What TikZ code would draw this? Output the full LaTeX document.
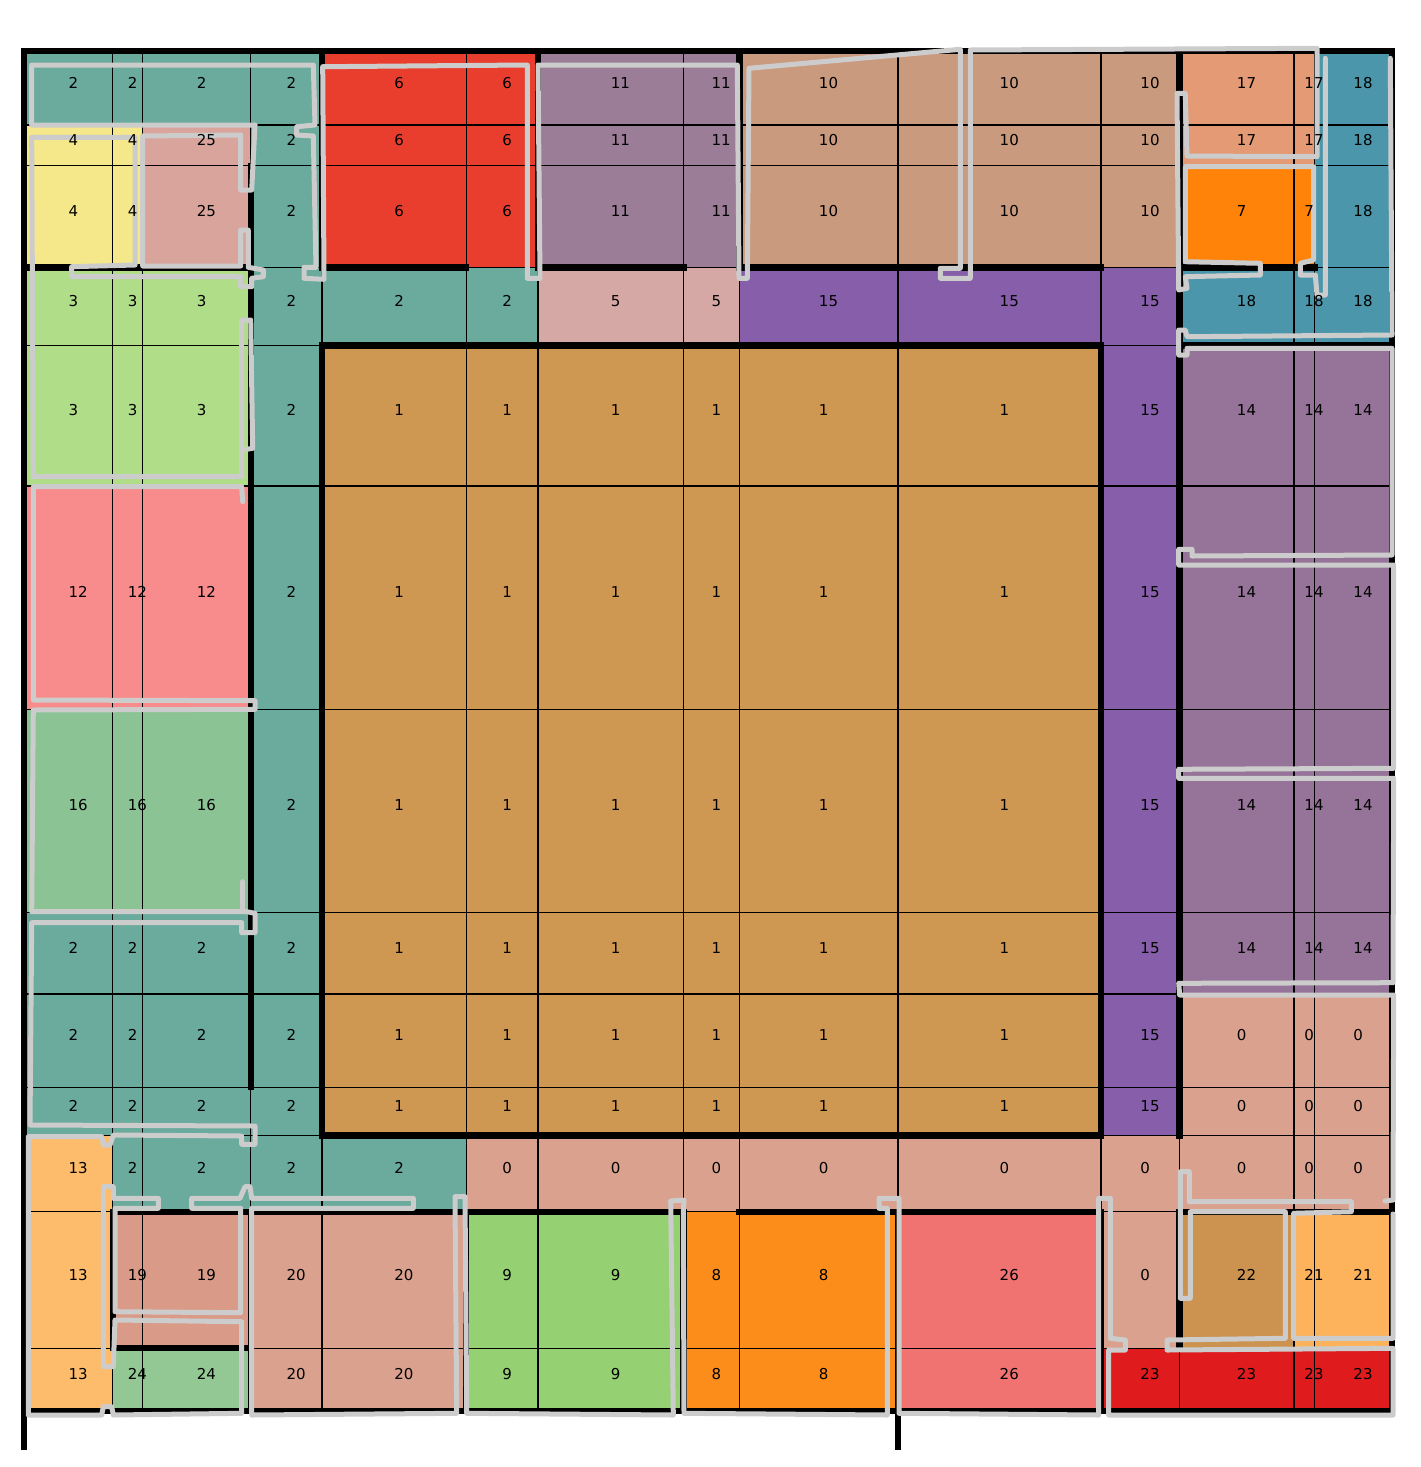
\documentclass[tikz,border=0pt]{standalone}
\usepackage{fontspec}
\setmainfont{DejaVu Sans}
\definecolor{c0}{HTML}{DBA18F}
\definecolor{c1}{HTML}{CF9852}
\definecolor{c2}{HTML}{6AAB9D}
\definecolor{c3}{HTML}{B0DD88}
\definecolor{c4}{HTML}{F5E88A}
\definecolor{c5}{HTML}{D6A8A5}
\definecolor{c6}{HTML}{E93E2E}
\definecolor{c7}{HTML}{FF8308}
\definecolor{c8}{HTML}{FD8D1A}
\definecolor{c9}{HTML}{95D072}
\definecolor{c10}{HTML}{C99A7E}
\definecolor{c11}{HTML}{9B7D97}
\definecolor{c12}{HTML}{F88C8C}
\definecolor{c13}{HTML}{FDBB6C}
\definecolor{c14}{HTML}{967398}
\definecolor{c15}{HTML}{865EAA}
\definecolor{c16}{HTML}{8BC395}
\definecolor{c17}{HTML}{E39A75}
\definecolor{c18}{HTML}{4B96AA}
\definecolor{c19}{HTML}{D99B87}
\definecolor{c20}{HTML}{DBA18F}
\definecolor{c21}{HTML}{FDB25C}
\definecolor{c22}{HTML}{CB9250}
\definecolor{c23}{HTML}{E01B1E}
\definecolor{c24}{HTML}{93C793}
\definecolor{c25}{HTML}{D8A49B}
\definecolor{c26}{HTML}{F17371}
\definecolor{outl}{HTML}{CCCCCC}
\begin{document}
\begin{tikzpicture}[x=1pt,y=-1pt,
  lab/.style={anchor=base west,inner sep=0pt,font=\fontsize{15}{18}\selectfont},
  gridln/.style={draw=black,line width=1.4pt},
  wall/.style={line width=6.3pt,line cap=rect},
  outline/.style={draw=outl,line width=5pt,line join=round,line cap=round}]
\useasboundingbox (0,0) rectangle (1421,1467);
\def\XL{{24.3,112.7,142.7,250.7,322,466.3,538,683.5,739.5,898,1101,1179.5,1294,1314.5,1392}}
\def\YL{{51,125,165.7,267.5,345.5,486,709.5,912.3,993.8,1087.3,1135.5,1211.7,1348.3,1411}}
\def\ROWS{0/{2,2,2,2,6,6,11,11,10,10,10,17,17,18},
1/{4,4,25,2,6,6,11,11,10,10,10,17,17,18},
2/{4,4,25,2,6,6,11,11,10,10,10,7,7,18},
3/{3,3,3,2,2,2,5,5,15,15,15,18,18,18},
4/{3,3,3,2,1,1,1,1,1,1,15,14,14,14},
5/{12,12,12,2,1,1,1,1,1,1,15,14,14,14},
6/{16,16,16,2,1,1,1,1,1,1,15,14,14,14},
7/{2,2,2,2,1,1,1,1,1,1,15,14,14,14},
8/{2,2,2,2,1,1,1,1,1,1,15,0,0,0},
9/{2,2,2,2,1,1,1,1,1,1,15,0,0,0},
10/{13,2,2,2,2,0,0,0,0,0,0,0,0,0},
11/{13,19,19,20,20,9,9,8,8,26,0,22,21,21},
12/{13,24,24,20,20,9,9,8,8,26,23,23,23,23}}
% cells
\foreach \r/\vals in \ROWS {
  \foreach \v [count=\cc from 0] in \vals {
    \pgfmathsetmacro\xa{\XL[\cc]}
    \pgfmathsetmacro\xb{\XL[\cc+1]}
    \pgfmathsetmacro\ya{\YL[\r]}
    \pgfmathsetmacro\yb{\YL[\r+1]}
    \fill[c\v] (\xa,\ya) rectangle (\xb,\yb);
    \draw[gridln] (\xa,\ya) rectangle (\xb,\yb);
  }
}
% walls
\draw[wall] (24.3,51) -- (1392,51);
\draw[wall] (24.3,51) -- (24.3,1447);
\draw[wall] (1392,51) -- (1392,1411);
\draw[wall] (24.3,1411) -- (1392,1411);
\draw[wall] (898,1211.7) -- (898,1447);
\draw[wall] (24.3,267.5) -- (250.7,267.5);
\draw[wall] (322,267.5) -- (466.3,267.5);
\draw[wall] (538,267.5) -- (683.5,267.5);
\draw[wall] (739.5,267.5) -- (1101,267.5);
\draw[wall] (322,51) -- (322,267.5);
\draw[wall] (538,51) -- (538,267.5);
\draw[wall] (739.5,51) -- (739.5,267.5);
\draw[wall] (1179.5,51) -- (1179.5,1135.5);
\draw[wall] (1179.5,267.5) -- (1314.5,267.5);
\draw[wall] (1179.5,345.5) -- (1392,345.5);
\draw[wall] (322,345.5) rectangle (1101,1135.5);
\draw[wall] (250.7,165.7) -- (250.7,1087.3);
\draw[wall] (112.7,1211.7) -- (683.5,1211.7);
\draw[wall] (739.5,1211.7) -- (1101,1211.7);
\draw[wall] (1179.5,1211.7) -- (1392,1211.7);
\draw[wall] (112.7,1211.7) -- (112.7,1348.3);
\draw[wall] (112.7,1348.3) -- (250.7,1348.3);
\draw[wall] (250.7,1211.7) -- (250.7,1411);
\draw[wall] (466.3,1211.7) -- (466.3,1411);
\draw[wall] (683.5,1211.7) -- (683.5,1411);
\draw[wall] (1101,1211.7) -- (1101,1411);
\draw[wall] (1179.5,1211.7) -- (1179.5,1348.3);
% outlines
\draw[outline] (255,125)--(31.7,125)--(31.7,65)--(313.3,65)--(315,125)--(296.7,126.7)--(296.7,135)--(313.3,136)--(316,267.3)--(304,267.3)--(304,278.3)--(324,279.3)--(322.7,66.7)--(527.3,65)--(527.3,278.3)--(540,278.3)--(538,65)--(737.3,65)--(739,278.3)--(747.3,278.3)--(749,68.3)--(960.3,49.3)--(960.3,268.3)--(940.3,268.3)--(940.3,278.3)--(970.3,278.3)--(970.3,50)--(1317,48.3)--(1317,156.7)--(1187,156)--(1185.3,93.3)--(1177,93.3)--(1178.7,290)--(1187,288.3)--(1185.3,276.7)--(1260.3,275)--(1260.3,263.3)--(1185.3,261.7)--(1185.3,166.7)--(1313.7,166.7)--(1313.7,260)--(1300.3,263.3)--(1300.3,275)--(1315.3,275)--(1317,295)--(1325.3,295)--(1325.3,58.3);
\draw[outline] (255,125)--(251.7,190)--(240.7,190)--(240.7,135)--(142.7,136)--(142.7,266)--(240.7,266)--(240.7,230)--(248.3,230)--(248.3,267.3)--(263.3,270)--(263.3,276.7)--(251.7,278.3)--(251.7,286.7)--(240.7,286.7)--(240.7,276.7)--(71.7,276.7)--(71.7,266.7)--(135,265)--(135,137.3)--(31.7,137.3)--(33.3,476.7)--(241.7,476.7)--(241.7,320)--(250.7,320)--(252.7,448.3)--(246.7,449.3);
\draw[outline] (242.7,501.7)--(241.7,486.7)--(33.3,486.7)--(33.3,700)--(255,700.7)--(255,709.3)--(33.3,710)--(31.7,911.7)--(246.7,911.7)--(255,913.3)--(255,932.7)--(241.7,932.7)--(241.7,922.7)--(31.7,922.7)--(30,1125)--(255,1126)--(255,1144.3)--(241.7,1144.3)--(241.7,1136)--(113.3,1135)--(110,1145)--(103.3,1145)--(101.7,1136.7)--(28.3,1136.7)--(28.3,1415)--(101.7,1415)--(103.3,1406.7)--(111.7,1406.7)--(113.3,1415)--(241.7,1413.3)--(241.7,1321.7)--(115,1320)--(113.3,1366.7)--(103.3,1366.7)--(103.3,1186.7)--(113.3,1186.7)--(113.3,1198.3)--(158.3,1198.3)--(158.3,1208.3)--(115,1208.3)--(115,1311.7)--(240.7,1312.7)--(240.7,1208.3)--(191.7,1208.3)--(191.7,1198.3)--(240,1198.3)--(245,1186.7)--(250,1186.7)--(251.7,1198.3)--(413.3,1198.3)--(413.3,1208.3)--(251.7,1208.3)--(251.7,1415)--(456.7,1413.3)--(455,1196.7)--(465,1196.7)--(466.7,1413.3)--(673.3,1415)--(670.7,1201)--(684,1200)--(683.3,1213.3)--(684,1413.3)--(887.3,1415)--(887.3,1208.3)--(879,1208.3)--(879,1198.3)--(899,1198.3)--(899,1413.3)--(1098.7,1415)--(1098.7,1198.3)--(1110.3,1198.3)--(1110.3,1338.3)--(1125.3,1340)--(1125.3,1350)--(1108.7,1350)--(1108.7,1415)--(1393,1415)--(1393,1348.3)--(1167,1350)--(1167,1340)--(1285.3,1338.3)--(1285.3,1211.7)--(1190.3,1211.7)--(1190.3,1298.3)--(1180.3,1298.3)--(1180.3,1171.7)--(1189.3,1171.7)--(1189.3,1201.7)--(1351.3,1201.7)--(1351.3,1211.7)--(1293.7,1213.3)--(1293.7,1338.3)--(1393,1338.3)--(1393,1214);
\draw[outline] (242.7,881.7)--(242.7,911.7);
\draw[outline] (1390.3,58.3)--(1392,335)--(1187,336.7)--(1185.3,330)--(1178.7,330)--(1178.7,355)--(1187,355)--(1187,348.3)--(1392,348.3)--(1392,555)--(1192,556)--(1192,549.3)--(1178.7,549.3)--(1178.7,565)--(1393.7,565)--(1393.7,768.3)--(1178.7,769.3)--(1178.7,778.3)--(1393.7,778.3)--(1393,982.7)--(1178.7,983.3)--(1179.7,995)--(1393.7,995)--(1393,1200)--(1385,1201);
% labels on top
\foreach \r/\vals in \ROWS {
  \foreach \v [count=\cc from 0] in \vals {
    \pgfmathsetmacro\xa{\XL[\cc]}
    \pgfmathsetmacro\xb{\XL[\cc+1]}
    \pgfmathsetmacro\ya{\YL[\r]}
    \pgfmathsetmacro\yb{\YL[\r+1]}
    \pgfmathsetmacro\cx{0.5*\xa+0.5*\xb}
    \pgfmathsetmacro\cy{0.5*\ya+0.5*\yb}
    \node[lab] (l\r-\cc) at (\cx,\cy) {\v};
  }
}
\end{tikzpicture}
\end{document}
